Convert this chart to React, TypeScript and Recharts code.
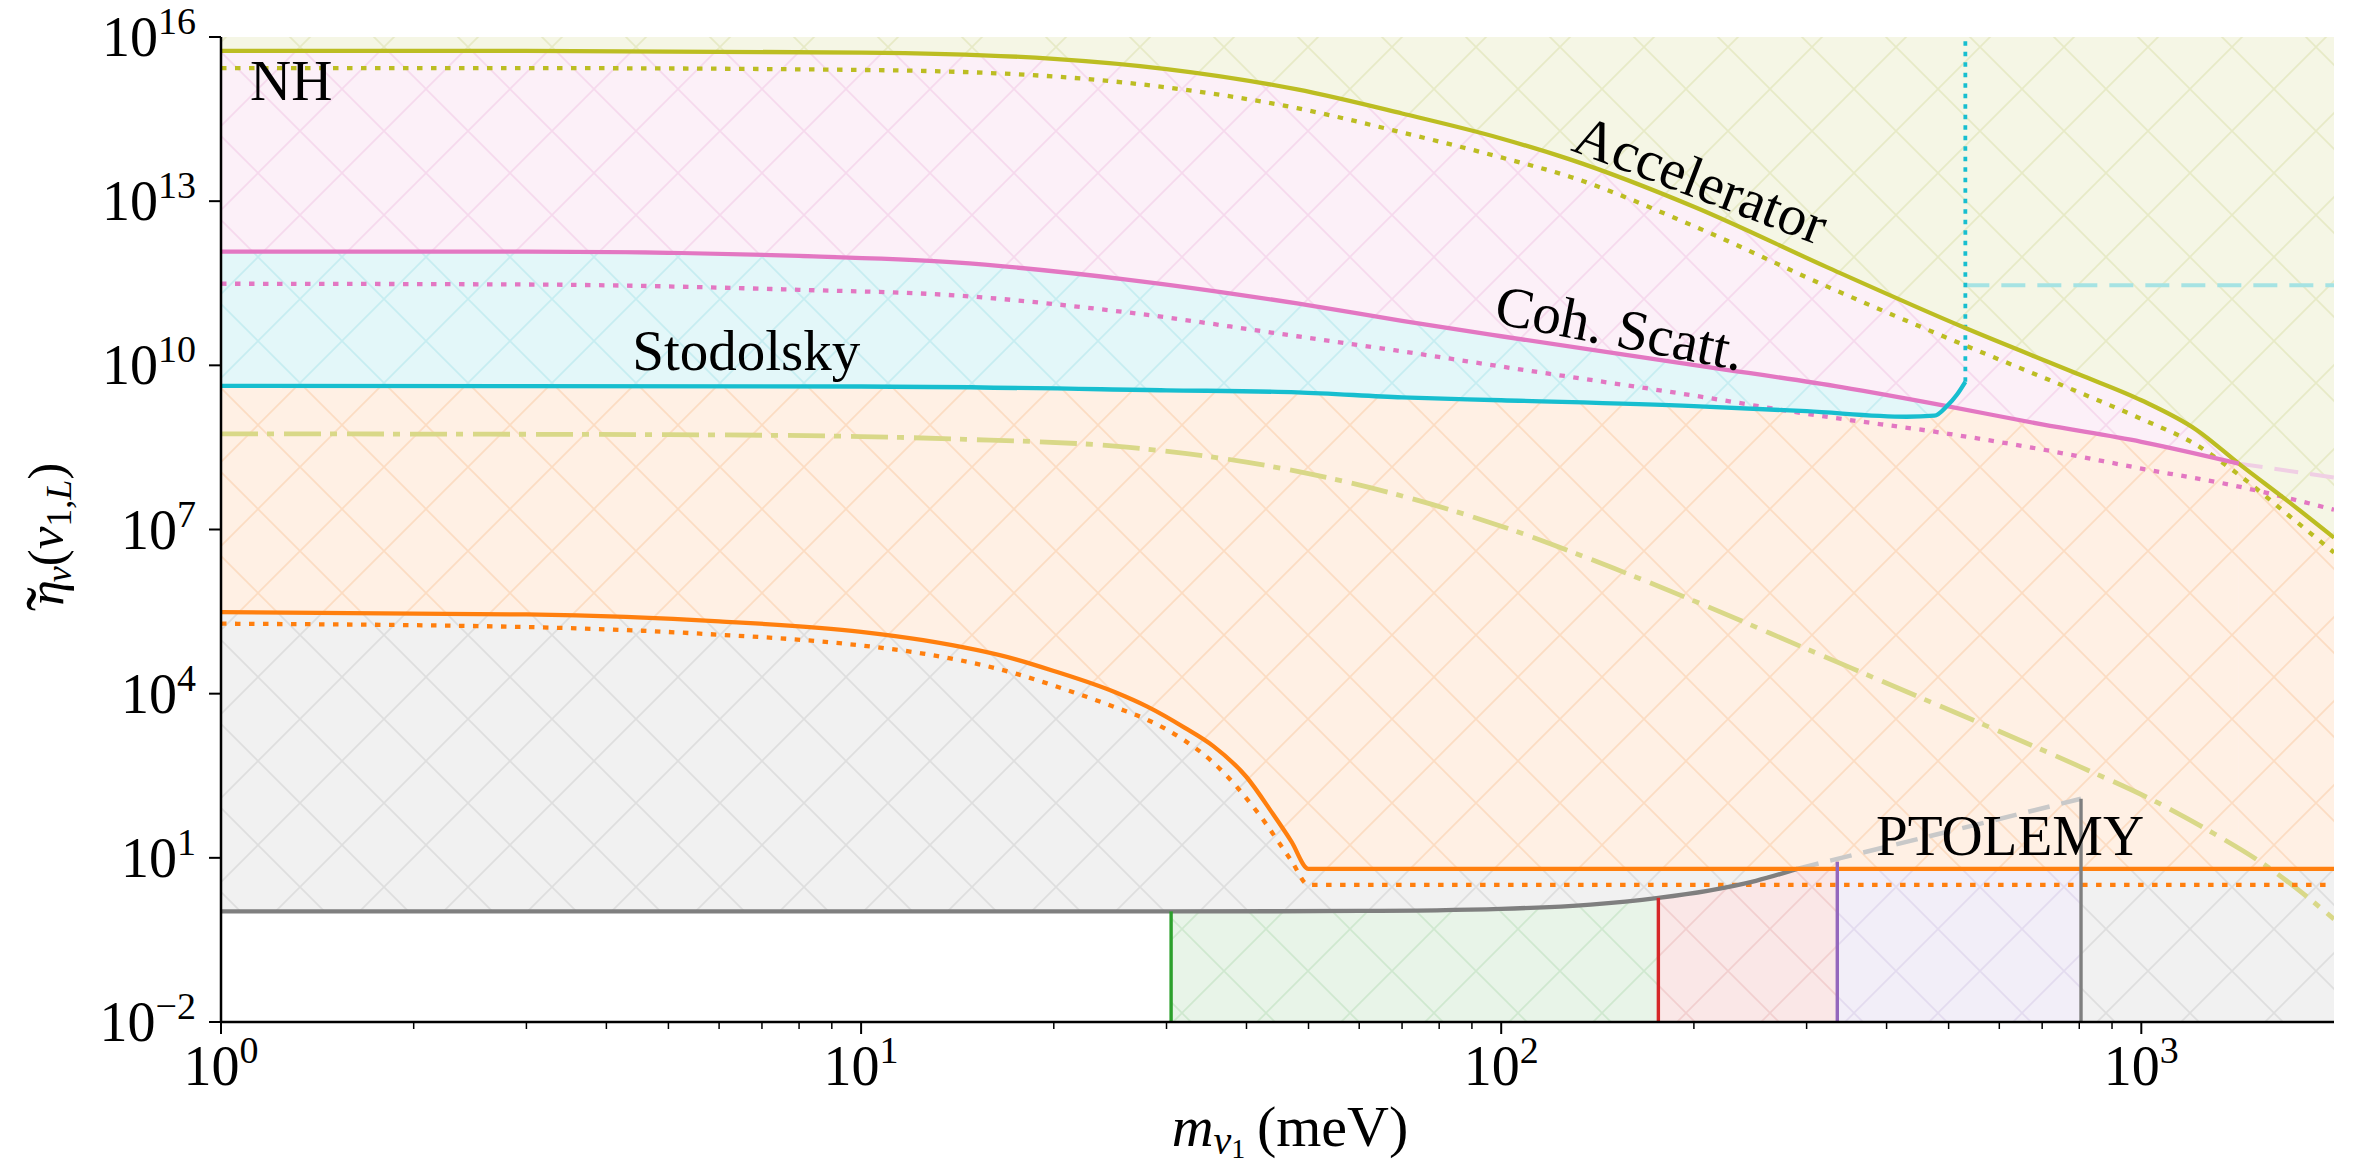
import React from 'react';
import { ComposedChart, Line, Area, XAxis, YAxis, ReferenceDot } from 'recharts';

type Pt = [number, number];

const W = 2358;
const H = 1169;
const FONT = "'Liberation Serif', 'DejaVu Serif', serif";

// ---------- data: [m_nu1 (meV), eta] ----------
const xDomain: Pt = [1, 2000];
const yDomain: Pt = [1e-2, 1e16];
const xTicks = [1, 2, 3, 4, 5, 6, 7, 8, 9, 10, 20, 30, 40, 50, 60, 70, 80, 90, 100, 200, 300, 400, 500, 600, 700, 800, 900, 1000];
const yTicks = [1e-2, 1e1, 1e4, 1e7, 1e10, 1e13, 1e16];

const acceleratorSolid: Pt[] = [
  [1, 5.6e15], [3, 5.6e15], [10, 5.2e15], [20, 4.0e15], [30, 2.6e15], [48, 1.1e15], [70, 4.0e14],
  [100, 1.4e14], [128, 5.8e13], [200, 7.9e12], [322, 6.3e11], [531, 4.8e10], [800, 6.8e9],
  [1000, 2.3e9], [1220, 6.6e8], [1420, 1.6e8], [1700, 3.2e7], [2000, 7.1e6],
];
const acceleratorDotted: Pt[] = [
  [1, 2.7e15], [3, 2.7e15], [10, 2.5e15], [20, 1.9e15], [30, 1.2e15], [48, 5.0e14], [70, 1.8e14],
  [100, 6.3e13], [128, 2.8e13], [200, 3.5e12], [322, 2.8e11], [531, 2.3e10], [800, 3.2e9],
  [1000, 1.05e9], [1220, 3.5e8], [1420, 1.0e8], [1700, 1.8e7], [2000, 3.8e6],
];
const cohSolid: Pt[] = [
  [1, 1.2e12], [3, 1.2e12], [8, 1.0e12], [14, 7.6e11], [26, 3.7e11], [48, 1.35e11], [70, 6.5e10],
  [100, 3.4e10], [208, 9.5e9], [340, 4.0e9], [497, 1.8e9], [700, 8.3e8], [1000, 4.0e8], [1420, 1.6e8],
];
const cohExtension: Pt[] = [[1420, 1.6e8], [2000, 8.9e7]];
const cohDotted: Pt[] = [
  [1, 3.1e11], [3, 3.0e11], [8, 2.4e11], [14, 1.9e11], [26, 9.3e10], [48, 3.4e10], [70, 1.8e10],
  [100, 9.5e9], [200, 2.8e9], [300, 1.3e9], [500, 5.6e8], [700, 2.9e8], [1000, 1.3e8], [1400, 6.3e7],
  [2000, 2.3e7],
];
const stodolskySolid: Pt[] = [
  [1, 4.2e9], [10, 4.1e9], [30, 3.5e9], [48, 3.2e9], [70, 2.6e9], [100, 2.3e9], [200, 1.8e9],
  [300, 1.45e9], [430, 1.15e9], [475, 1.2e9], [497, 1.8e9], [515, 2.9e9], [531, 5.0e9],
];
const stodolskyVertical: Pt[] = [[531, 5.0e9], [531, 1e16]];
const stodolskyExtension: Pt[] = [[531, 2.9e11], [2000, 2.9e11]];
const dashDot: Pt[] = [
  [1, 5.6e8], [5, 5.4e8], [10, 5.0e8], [14, 4.5e8], [26, 3.2e8], [40, 1.7e8], [50, 1.05e8],
  [70, 4.1e7], [100, 1.15e7], [150, 1.95e6], [208, 4.1e5], [293, 7.4e4], [431, 1.07e4], [556, 3.0e3],
  [800, 470], [1055, 105], [1300, 27.5], [1550, 7.8], [1800, 2.1], [2000, 0.76],
];
const orangeSolid: Pt[] = [
  [1, 3.1e5], [3, 2.8e5], [6, 2.1e5], [10, 1.35e5], [12.5, 9.5e4], [17.5, 4.2e4], [20, 2.6e4],
  [25, 1.05e4], [28, 5.8e3], [32, 2.4e3], [35.5, 1.1e3], [40, 300], [44, 63], [47, 20], [50, 6.3],
  [2000, 6.3],
];
const orangeDotted: Pt[] = [
  [1, 1.9e5], [3, 1.65e5], [5.6, 1.25e5], [10, 7.6e4], [12.5, 5.4e4], [17.5, 2.3e4], [20.2, 1.35e4],
  [25, 5.6e3], [27.9, 3.4e3], [32, 1.4e3], [35.5, 550], [41.7, 66], [47, 8.9], [50, 3.2], [2000, 3.2],
];
const grayCurve: Pt[] = [
  [1, 1.05], [30.5, 1.05], [60, 1.07], [100, 1.17], [138, 1.4], [176, 1.86], [210, 2.5], [250, 3.8], [290, 6.3],
];
const grayExtension: Pt[] = [[290, 6.3], [805, 120]];
const greenLimit: Pt[] = [[30.5, 1e-2], [30.5, 1.05]];
const redLimit: Pt[] = [[176, 1e-2], [176, 1.86]];
const purpleLimit: Pt[] = [[335, 1e-2], [335, 8.5]];
const grayLimit: Pt[] = [[805, 1e-2], [805, 120]];

// annotation anchors (data coordinates) and rotation
const annotations: { text: string; m: number; eta: number; angle: number }[] = [
  { text: 'NH', m: 1.11, eta: 7.1e14, angle: 0 },
  { text: 'Stodolsky', m: 4.39, eta: 8.2e9, angle: 0 },
  { text: 'Accelerator', m: 128, eta: 8.6e13, angle: 21 },
  { text: 'Coh. Scatt.', m: 97, eta: 6.0e10, angle: 11 },
  { text: 'PTOLEMY', m: 385, eta: 11.2, angle: 0 },
];

// ---------- helpers ----------
const rows = (a: Pt[]) => a.map(([m, v]) => ({ m, v }));
const between = (a: Pt[], lo: number, hi: number) => a.filter(([m]) => m >= lo && m <= hi);
const plateau = orangeSolid[orangeSolid.length - 1][1];

const COL = {
  acc: '#bcbd22',
  coh: '#e377c2',
  stod: '#17becf',
  orange: '#ff7f0e',
  gray: '#7f7f7f',
  green: '#2ca02c',
  red: '#d62728',
  purple: '#9467bd',
  dashDot: '#d9d888',
  cohPale: '#f0cfe4',
  stodPale: '#a6e3e3',
  grayPale: '#c9c9c9',
};

const hatches: { id: string; bg: string; line: string }[] = [
  { id: 'h-yg', bg: '#f5f6e5', line: '#e7eac6' },
  { id: 'h-pink', bg: '#fcf0f8', line: '#f6d9ed' },
  { id: 'h-cyan', bg: '#e3f7f9', line: '#c6edf1' },
  { id: 'h-orange', bg: '#fff0e4', line: '#fcdcc2' },
  { id: 'h-gray', bg: '#f1f1f1', line: '#dedede' },
  { id: 'h-green', bg: '#e8f4e8', line: '#cfe8cf' },
  { id: 'h-red', bg: '#fae7e7', line: '#f2cfcf' },
  { id: 'h-purple', bg: '#f2eef8', line: '#e3dbef' },
];

const HATCH_PATH = 'M-10 -10L94 94M-10 74L10 94M74 -10L94 10M94 -10L-10 94M-10 10L10 -10M74 94L94 74';

const XTick = (props: any) => {
  const { x, y, payload } = props;
  const e = Math.log10(payload.value);
  const major = Math.abs(e - Math.round(e)) < 1e-6;
  return (
    <g>
      <line x1={x} x2={x} y1={y} y2={y + (major ? 12 : 7)} stroke="#000" strokeWidth={major ? 2 : 1.5} />
      {major && (
        <text x={x} y={y + 63} textAnchor="middle" fontFamily={FONT} fontSize={56} fill="#000">
          10<tspan dy={-22} fontSize={38}>{String(Math.round(e))}</tspan>
        </text>
      )}
    </g>
  );
};

const YTick = (props: any) => {
  const { x, y, payload } = props;
  const e = Math.round(Math.log10(payload.value));
  return (
    <g>
      <line x1={x - 12} x2={x} y1={y} y2={y} stroke="#000" strokeWidth={2} />
      <text x={x - 25} y={y + 19} textAnchor="end" fontFamily={FONT} fontSize={56} fill="#000">
        10<tspan dy={-22} fontSize={38}>{e < 0 ? '\u2212' + String(-e) : String(e)}</tspan>
      </text>
    </g>
  );
};

const XLabel = () => (
  <text x={1290} y={1146} textAnchor="middle" fontFamily={FONT} fontSize={58} fill="#000">
    <tspan fontStyle="italic">m</tspan>
    <tspan fontStyle="italic" fontSize={40} dy={8}>ν</tspan>
    <tspan fontSize={28} dy={4}>1</tspan>
    <tspan dy={-12}>{'\u2009(meV)'}</tspan>
  </text>
);

const YLabel = () => (
  <text transform="translate(63 537) rotate(-90)" textAnchor="middle" fontFamily={FONT} fontSize={51} fill="#000">
    <tspan fontStyle="italic">η</tspan>
    <tspan fontSize={72} dx={-31} dy={12}>{'\u02DC'}</tspan>
    <tspan fontStyle="italic" fontSize={36} dx={5} dy={-4}>ν</tspan>
    <tspan dy={-8}>(</tspan>
    <tspan fontStyle="italic">ν</tspan>
    <tspan fontSize={36} dy={8}>1,</tspan>
    <tspan fontSize={36} fontStyle="italic">L</tspan>
    <tspan dy={-8}>)</tspan>
  </text>
);

const band = (key: string, data: Pt[], pattern: string) => (
  <Area
    key={key}
    data={rows(data)}
    dataKey="v"
    type="monotone"
    baseValue={1e-2}
    stroke="none"
    fill={`url(#${pattern})`}
    fillOpacity={1}
    isAnimationActive={false}
    dot={false}
    activeDot={false}
  />
);

const curve = (key: string, data: Pt[], color: string, width: number, dash?: string, linear?: boolean) => (
  <Line
    key={key}
    data={rows(data)}
    dataKey="v"
    type={linear ? 'linear' : 'monotone'}
    stroke={color}
    strokeWidth={width}
    strokeDasharray={dash}
    dot={false}
    activeDot={false}
    isAnimationActive={false}
  />
);

export default function App() {
  return (
    <div style={{ position: 'absolute', left: 0, top: 0, width: W, height: H, background: '#fff' }}>
      <ComposedChart width={W} height={H} margin={{ top: 37, right: 24, bottom: 0, left: 0 }}>
        <defs>
          {hatches.map((h) => (
            <pattern key={h.id} id={h.id} patternUnits="userSpaceOnUse" x={6} y={5} width={84} height={84}>
              <rect x={0} y={0} width={84} height={84} fill={h.bg} />
              <path d={HATCH_PATH} stroke={h.line} strokeWidth={1.6} fill="none" />
            </pattern>
          ))}
        </defs>
        <XAxis
          dataKey="m"
          type="number"
          scale="log"
          domain={xDomain}
          allowDataOverflow
          ticks={xTicks}
          interval={0}
          tick={(p: any) => <XTick {...p} />}
          tickLine={false}
          tickSize={0}
          tickMargin={0}
          height={147}
          axisLine={{ stroke: '#000', strokeWidth: 2.5 }}
          label={{ content: () => <XLabel /> }}
        />
        <XAxis
          xAxisId="top"
          orientation="top"
          type="number"
          scale="log"
          domain={xDomain}
          allowDataOverflow
          tick={false}
          tickLine={false}
          height={0}
          axisLine={{ stroke: '#000', strokeWidth: 2.5 }}
        />
        <YAxis
          type="number"
          scale="log"
          domain={yDomain}
          allowDataOverflow
          ticks={yTicks}
          interval={0}
          tick={(p: any) => <YTick {...p} />}
          tickLine={false}
          tickSize={0}
          tickMargin={0}
          width={221}
          axisLine={{ stroke: '#000', strokeWidth: 2.5 }}
          label={{ content: () => <YLabel /> }}
        />
        <YAxis
          yAxisId="right"
          orientation="right"
          type="number"
          scale="log"
          domain={yDomain}
          allowDataOverflow
          tick={false}
          tickLine={false}
          width={0}
          axisLine={{ stroke: '#000', strokeWidth: 2.5 }}
        />

        {/* filled regions, painted from top to bottom */}
        {band('r-yg', [[xDomain[0], yDomain[1]], [xDomain[1], yDomain[1]]], 'h-yg')}
        {band('r-pink', acceleratorSolid, 'h-pink')}
        {band('r-or1', between(acceleratorSolid, 1420, 2000), 'h-orange')}
        {band('r-or2', between(cohSolid, 497, 1420), 'h-orange')}
        {band('r-cyan', between(cohSolid, 1, 497), 'h-cyan')}
        {band('r-or3', between(stodolskySolid, 1, 497), 'h-orange')}
        {band('r-gray', orangeSolid, 'h-gray')}
        <Area
          key="r-white"
          data={rows(between(grayCurve, 1, 30.5))}
          dataKey="v"
          type="monotone"
          baseValue={1e-2}
          stroke="none"
          fill="#ffffff"
          fillOpacity={1}
          isAnimationActive={false}
          dot={false}
          activeDot={false}
        />
        {band('r-green', between(grayCurve, 30.5, 176), 'h-green')}
        {band('r-red', [...between(grayCurve, 176, 290), [335, plateau]], 'h-red')}
        {band('r-purple', [[335, plateau], [805, plateau]], 'h-purple')}

        {/* curves */}
        {curve('l-cohExt', cohExtension, COL.cohPale, 4, '24 12', true)}
        {curve('l-stodExt', stodolskyExtension, COL.stodPale, 4, '24 12', true)}
        {curve('l-grayExt', grayExtension, COL.grayPale, 4.5, '22 12', true)}
        {curve('l-dashdot', dashDot, COL.dashDot, 4.8, '37 9 7 10')}
        {curve('l-accD', acceleratorDotted, COL.acc, 4.3, '5.5 8.5')}
        {curve('l-cohD', cohDotted, COL.coh, 4.3, '5.5 8.5')}
        {curve('l-orD', orangeDotted, COL.orange, 4.3, '5.5 8.5')}
        {curve('l-stodV', stodolskyVertical, COL.stod, 3.8, '4.5 6', true)}
        {curve('l-acc', acceleratorSolid, COL.acc, 4.3)}
        {curve('l-coh', cohSolid, COL.coh, 4.3)}
        {curve('l-stod', stodolskySolid, COL.stod, 4.3)}
        {curve('l-gray', grayCurve, COL.gray, 4.3)}
        {curve('l-or', orangeSolid, COL.orange, 4.3)}
        {curve('l-green', greenLimit, COL.green, 3.4, undefined, true)}
        {curve('l-red', redLimit, COL.red, 3.4, undefined, true)}
        {curve('l-purple', purpleLimit, COL.purple, 3.4, undefined, true)}
        {curve('l-grayV', grayLimit, COL.gray, 3.4, undefined, true)}

        {annotations.map((a) => (
          <ReferenceDot
            key={a.text}
            x={a.m}
            y={a.eta}
            r={0}
            ifOverflow="visible"
            shape={(p: any) => (
              <text
                x={p.cx}
                y={p.cy}
                transform={a.angle ? `rotate(${a.angle} ${p.cx} ${p.cy})` : undefined}
                fontFamily={FONT}
                fontSize={57}
                fill="#000"
              >
                {a.text}
              </text>
            )}
          />
        ))}
      </ComposedChart>
    </div>
  );
}
